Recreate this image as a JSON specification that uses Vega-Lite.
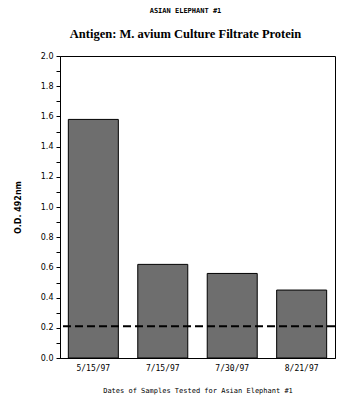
{
  "$schema": "https://vega.github.io/schema/vega-lite/v6.json",
  "width": 275,
  "height": 302,
  "autosize": {"type": "none"},
  "padding": {"left": 60, "top": 56, "right": 15, "bottom": 47},
  "background": "white",
  "title": {
    "text": "ASIAN ELEPHANT #1",
    "subtitle": "Antigen:  M. avium Culture Filtrate Protein",
    "anchor": "middle",
    "frame": "group",
    "dx": -12,
    "offset": 12,
    "font": "DejaVu Sans Mono",
    "fontSize": 7,
    "fontWeight": "bold",
    "color": "black",
    "subtitleFont": "Liberation Serif",
    "subtitleFontSize": 12.5,
    "subtitleFontWeight": "bold",
    "subtitleColor": "black",
    "subtitlePadding": 14
  },
  "data": {
    "values": [
      {"date": "5/15/97", "od": 1.58},
      {"date": "7/15/97", "od": 0.62},
      {"date": "7/30/97", "od": 0.56},
      {"date": "8/21/97", "od": 0.45}
    ]
  },
  "layer": [
    {
      "mark": {"type": "bar", "fill": "#6e6e6e", "stroke": "black", "strokeWidth": 1},
      "encoding": {
        "x": {
          "field": "date",
          "type": "nominal",
          "sort": null,
          "scale": {"paddingInner": 0.28, "paddingOuter": 0.12},
          "axis": {
            "title": "Dates of Samples Tested for Asian Elephant #1",
            "labelAngle": 0,
            "ticks": false,
            "domain": true,
            "domainColor": "black",
            "labelFont": "DejaVu Sans Mono",
            "labelFontSize": 8,
            "labelColor": "black",
            "labelPadding": 6,
            "titleFont": "DejaVu Sans Mono",
            "titleFontSize": 7,
            "titleFontWeight": "normal",
            "titleColor": "black",
            "titlePadding": 14
          }
        },
        "y": {
          "field": "od",
          "type": "quantitative",
          "scale": {"domain": [0, 2.0], "nice": false},
          "axis": {
            "title": "O.D.  492nm",
            "values": [0, 0.1, 0.2, 0.3, 0.4, 0.5, 0.6, 0.7, 0.8, 0.9, 1.0, 1.1, 1.2, 1.3, 1.4, 1.5, 1.6, 1.7, 1.8, 1.9, 2.0],
            "labelExpr": "round(datum.value * 10) % 2 == 0 ? format(datum.value, '.1f') : ''",
            "labelOverlap": false
          }
        }
      }
    },
    {
      "data": {"values": [{"thr": 0.21}]},
      "mark": {"type": "rule", "color": "black", "strokeWidth": 2, "strokeDash": [8, 4]},
      "encoding": {"y": {"field": "thr", "type": "quantitative",
        "axis": {
            "title": "O.D.  492nm",
            "values": [0, 0.1, 0.2, 0.3, 0.4, 0.5, 0.6, 0.7, 0.8, 0.9, 1.0, 1.1, 1.2, 1.3, 1.4, 1.5, 1.6, 1.7, 1.8, 1.9, 2.0],
            "labelExpr": "round(datum.value * 10) % 2 == 0 ? format(datum.value, '.1f') : ''",
            "labelOverlap": false
          }}}
    }
  ],
  "config": {
    "view": {"stroke": "black", "strokeWidth": 1},
    "axisY": {
      "grid": false,
      "ticks": true,
      "tickSize": 4,
      "tickWidth": 1,
      "tickColor": "black",
      "domainColor": "black",
      "labelFont": "DejaVu Sans",
      "labelFontSize": 8,
      "labelColor": "black",
      "labelPadding": 3,
      "titleFont": "DejaVu Sans",
      "titleFontSize": 8,
      "titleFontWeight": "bold",
      "titleColor": "black",
      "titlePadding": 18
    }
  }
}
